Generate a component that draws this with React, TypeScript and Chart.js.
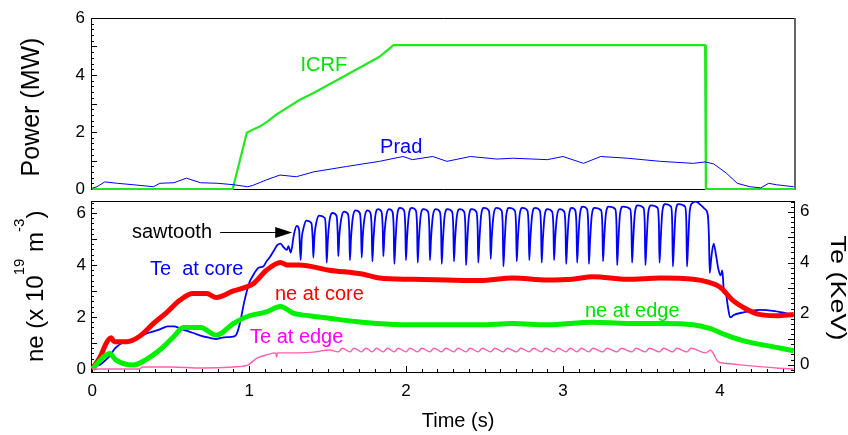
import React, { useEffect, useRef } from "react";
import { Chart, registerables } from "chart.js";
Chart.register(...registerables);

const W = 848;
const H = 435;
const FONT = "'Liberation Sans', Helvetica, Arial, sans-serif";

// ---------- tick labels ----------
const timeTicks = [0, 1, 2, 3, 4];
const powerTicks = [0, 2, 4, 6];
const neTicks = [0, 2, 4, 6];
const teTicks = [0, 2, 4, 6];

// ---------- top panel: power (MW) ----------
const icrf: number[][] = [
  [0, 0], [0.895, 0], [0.985, 1.97], [1.03, 2.1], [1.07, 2.2], [1.12, 2.38], [1.17, 2.6],
  [1.32, 3.12], [1.41, 3.37], [1.62, 4.0], [1.83, 4.64], [1.92, 5.05], [2.3, 5.05],
  [2.9, 5.05], [3.5, 5.05], [3.905, 5.05], [3.91, 0], [4.48, 0],
];
const prad: number[][] = [
  [0, 0.03], [0.03, 0.08], [0.08, 0.25], [0.16, 0.2], [0.26, 0.15], [0.39, 0.08], [0.43, 0.2],
  [0.52, 0.22], [0.6, 0.38], [0.69, 0.22], [0.8, 0.2], [0.9, 0.15], [0.99, 0.08], [1.02, 0.12],
  [1.11, 0.32], [1.196, 0.49], [1.3, 0.43], [1.41, 0.6], [1.62, 0.79], [1.83, 0.97],
  [1.98, 1.14], [2.04, 1.03], [2.17, 1.14], [2.26, 0.97], [2.41, 1.14], [2.58, 1.05],
  [2.68, 1.08], [2.9, 1.03], [3.0, 1.14], [3.13, 0.9], [3.24, 1.14], [3.41, 1.08],
  [3.62, 0.97], [3.83, 0.9], [3.905, 0.95], [3.96, 0.88], [4.04, 0.56], [4.11, 0.2],
  [4.19, 0.08], [4.26, 0.04], [4.31, 0.2], [4.36, 0.15], [4.47, 0.08],
];

// ---------- bottom panel: ne (1e19 m^-3) ----------
const neCore: number[][] = [
  [0, 0], [0.05, 0.46], [0.09, 1.0], [0.12, 1.2], [0.14, 1.05], [0.22, 1.05], [0.3, 1.25],
  [0.39, 1.75], [0.47, 2.15], [0.56, 2.65], [0.64, 2.9], [0.73, 2.9], [0.79, 2.75], [0.9, 3.0],
  [0.98, 3.15], [1.03, 3.3], [1.11, 3.8], [1.2, 4.1], [1.24, 4.0], [1.32, 4.0], [1.51, 3.8],
  [1.72, 3.65], [1.83, 3.5], [2.04, 3.45], [2.26, 3.42], [2.47, 3.4], [2.68, 3.5], [2.9, 3.42],
  [3.06, 3.45], [3.19, 3.55], [3.41, 3.45], [3.62, 3.5], [3.83, 3.45], [3.92, 3.35], [4.0, 3.15],
  [4.08, 2.65], [4.17, 2.3], [4.25, 2.1], [4.36, 2.05], [4.47, 2.1],
];
const neEdge: number[][] = [
  [0, 0], [0.07, 0.45], [0.11, 0.6], [0.15, 0.35], [0.26, 0.15], [0.34, 0.35], [0.43, 0.73],
  [0.52, 1.25], [0.58, 1.6], [0.69, 1.6], [0.79, 1.3], [0.9, 1.75], [0.98, 2.0], [1.11, 2.2],
  [1.2, 2.4], [1.28, 2.15], [1.32, 2.1], [1.51, 1.95], [1.72, 1.8], [2.04, 1.7], [2.26, 1.7],
  [2.47, 1.7], [2.68, 1.75], [2.9, 1.7], [3.19, 1.8], [3.41, 1.75], [3.62, 1.75], [3.83, 1.7],
  [3.94, 1.55], [4.04, 1.3], [4.17, 1.05], [4.3, 0.9], [4.47, 0.7],
];

// ---------- bottom panel: Te (keV) ----------
const teCore: number[][] = [
  [0.02, -0.05], [0.05, 0.0], [0.08, 0.15], [0.11, 0.33], [0.14, 0.6], [0.16, 0.72], [0.19, 0.85],
  [0.22, 0.92], [0.26, 1.0], [0.3, 1.1], [0.36, 1.25], [0.43, 1.38], [0.48, 1.5], [0.52, 1.5],
  [0.56, 1.42], [0.6, 1.33], [0.64, 1.25], [0.7, 1.12], [0.75, 1.05], [0.79, 1.0], [0.82, 1.05],
  [0.86, 1.08], [0.9, 1.1], [0.92, 1.2], [0.94, 1.6], [0.97, 2.5], [1.0, 3.2], [1.02, 3.45],
  [1.06, 3.8], [1.09, 3.85], [1.11, 4.05], [1.13, 4.2], [1.16, 4.5], [1.18, 4.7], [1.2, 4.75],
  [1.22, 4.6], [1.24, 4.5], [1.25, 4.65], [1.265, 4.4], [1.285, 5.1], [1.303, 5.44], [1.318, 5.3],
  [1.328, 4.1], [1.335, 4.95], [1.346, 5.35], [1.364, 5.65], [1.397, 5.55], [1.405, 4.9],
  [1.409, 4.2], [1.416, 5.05], [1.427, 5.55], [1.445, 5.85], [1.482, 5.75], [1.49, 5.1],
  [1.494, 4.0], [1.501, 4.85], [1.512, 5.65], [1.53, 5.95], [1.556, 5.85], [1.564, 5.2],
  [1.568, 4.25], [1.575, 5.1], [1.586, 5.7], [1.604, 6.0], [1.63, 5.9], [1.638, 5.25],
  [1.642, 4.1], [1.649, 4.95], [1.66, 5.75], [1.678, 6.05], [1.705, 5.95], [1.713, 5.3],
  [1.717, 4.2], [1.724, 5.05], [1.735, 5.75], [1.753, 6.05], [1.773, 5.95], [1.781, 5.3],
  [1.785, 4.05], [1.792, 4.9], [1.803, 5.8], [1.821, 6.1], [1.843, 6.0], [1.851, 5.35],
  [1.855, 4.25], [1.862, 5.1], [1.873, 5.8], [1.891, 6.1], [1.913, 6.0], [1.921, 5.35],
  [1.925, 3.95], [1.932, 4.8], [1.943, 5.85], [1.961, 6.15], [1.987, 6.05], [1.995, 5.4],
  [1.999, 4.1], [2.006, 4.95], [2.017, 5.85], [2.035, 6.15], [2.062, 6.05], [2.07, 5.4],
  [2.074, 4.0], [2.081, 4.85], [2.092, 5.8], [2.11, 6.1], [2.14, 6.0], [2.148, 5.35],
  [2.152, 4.1], [2.159, 4.95], [2.17, 5.8], [2.188, 6.1], [2.215, 6.0], [2.223, 5.35],
  [2.227, 3.95], [2.234, 4.8], [2.245, 5.8], [2.263, 6.1], [2.293, 6.0], [2.301, 5.35],
  [2.305, 4.05], [2.312, 4.9], [2.323, 5.8], [2.341, 6.1], [2.37, 6.0], [2.378, 5.35],
  [2.382, 3.9], [2.389, 4.75], [2.4, 5.8], [2.418, 6.1], [2.448, 6.0], [2.456, 5.35],
  [2.46, 4.0], [2.467, 4.85], [2.478, 5.85], [2.496, 6.15], [2.527, 6.05], [2.535, 5.4],
  [2.539, 4.15], [2.546, 5.0], [2.557, 5.85], [2.575, 6.15], [2.608, 6.05], [2.616, 5.4],
  [2.62, 3.85], [2.627, 4.7], [2.638, 5.85], [2.656, 6.15], [2.693, 6.05], [2.701, 5.4],
  [2.705, 4.05], [2.712, 4.9], [2.723, 5.85], [2.741, 6.15], [2.773, 6.05], [2.781, 5.4],
  [2.785, 4.1], [2.792, 4.95], [2.803, 5.85], [2.821, 6.15], [2.852, 6.05], [2.86, 5.4],
  [2.864, 4.0], [2.871, 4.85], [2.882, 5.8], [2.9, 6.1], [2.931, 6.0], [2.939, 5.35],
  [2.943, 4.1], [2.95, 4.95], [2.961, 5.8], [2.979, 6.1], [3.008, 6.0], [3.016, 5.35],
  [3.02, 3.95], [3.027, 4.8], [3.038, 5.85], [3.056, 6.15], [3.078, 6.05], [3.086, 5.4],
  [3.09, 4.0], [3.097, 4.85], [3.108, 5.9], [3.126, 6.2], [3.153, 6.1], [3.161, 5.45],
  [3.165, 3.95], [3.172, 4.8], [3.183, 5.85], [3.201, 6.15], [3.243, 6.05], [3.251, 5.4],
  [3.255, 4.05], [3.262, 4.9], [3.273, 5.9], [3.291, 6.2], [3.333, 6.1], [3.341, 5.45],
  [3.345, 3.9], [3.352, 4.75], [3.363, 5.9], [3.381, 6.2], [3.428, 6.1], [3.436, 5.45],
  [3.44, 4.0], [3.447, 4.85], [3.458, 5.95], [3.476, 6.25], [3.513, 6.15], [3.521, 5.5],
  [3.525, 3.9], [3.532, 4.75], [3.543, 5.95], [3.561, 6.25], [3.603, 6.15], [3.611, 5.5],
  [3.615, 4.0], [3.622, 4.85], [3.633, 6.0], [3.651, 6.3], [3.688, 6.2], [3.696, 5.55],
  [3.7, 3.85], [3.707, 4.7], [3.718, 6.0], [3.736, 6.3], [3.778, 6.2], [3.786, 5.55],
  [3.79, 3.85], [3.797, 4.7], [3.808, 6.05], [3.826, 6.35], [3.845, 6.4], [3.88, 6.25],
  [3.905, 6.1], [3.922, 5.9], [3.93, 5.0],
  [3.935, 3.6], [3.945, 4.2], [3.96, 4.75], [3.975, 4.3], [3.99, 3.75], [4.005, 3.5],
  [4.015, 3.7], [4.025, 2.95], [4.035, 2.9], [4.05, 2.3], [4.065, 1.85], [4.09, 1.95],
  [4.15, 2.05], [4.25, 2.15], [4.35, 2.1], [4.47, 1.95],
];
const teEdge: number[][] = [
  [0, 0], [0.3, 0], [0.32, 0.08], [0.5, 0.08], [0.7, 0.04], [0.9, 0.08], [0.99, 0.15],
  [1.05, 0.42], [1.11, 0.54], [1.17, 0.62], [1.175, 0.45], [1.18, 0.62], [1.32, 0.62],
  [1.41, 0.65], [1.51, 0.73],
  [1.568, 0.66], [1.594, 0.8], [1.642, 0.66], [1.668, 0.8], [1.717, 0.66], [1.743, 0.8],
  [1.785, 0.66], [1.811, 0.8], [1.855, 0.66], [1.881, 0.8], [1.925, 0.66], [1.951, 0.8],
  [1.999, 0.66], [2.025, 0.8], [2.074, 0.66], [2.1, 0.8], [2.152, 0.66], [2.178, 0.8],
  [2.227, 0.66], [2.253, 0.8], [2.305, 0.66], [2.331, 0.8], [2.382, 0.66], [2.408, 0.8],
  [2.46, 0.66], [2.486, 0.8], [2.539, 0.66], [2.565, 0.8], [2.62, 0.66], [2.646, 0.8],
  [2.705, 0.66], [2.731, 0.8], [2.785, 0.66], [2.811, 0.8], [2.864, 0.66], [2.89, 0.8],
  [2.943, 0.66], [2.969, 0.8], [3.02, 0.66], [3.046, 0.8], [3.09, 0.66], [3.116, 0.8],
  [3.165, 0.66], [3.191, 0.8], [3.255, 0.66], [3.281, 0.8], [3.345, 0.66], [3.371, 0.8],
  [3.44, 0.66], [3.466, 0.8], [3.525, 0.66], [3.551, 0.8], [3.615, 0.66], [3.641, 0.8],
  [3.7, 0.66], [3.726, 0.8], [3.79, 0.66], [3.816, 0.8], [3.91, 0.62], [3.94, 0.72],
  [3.99, 0.27], [4.02, 0.23], [4.15, 0.15], [4.36, 0.04], [4.47, 0.0],
];

// ---------- annotations (data units of each panel) ----------
const topNotes = [
  { text: "ICRF", x: 1.327, y: 4.14, color: "#00e000" },
  { text: "Prad", x: 1.834, y: 1.26, color: "#0000ff" },
];
const bottomNotes = [
  { text: "sawtooth", x: 0.253, y: 5.04, color: "#000000" },
  { text: "Te  at core", x: 0.368, y: 3.62, color: "#0000ff" },
  { text: "ne at core", x: 1.164, y: 2.65, color: "#ff0000" },
  { text: "Te at edge", x: 1.005, y: 1.0, color: "#ff00ff" },
  { text: "ne at edge", x: 3.14, y: 2.0, color: "#00e000" },
];
const arrowFrom = [0.815, 5.27];
const arrowTo = [1.274, 5.27];

const pts = (a: number[][]) => a.map(([x, y]) => ({ x, y }));

function drawTicks(ctx: CanvasRenderingContext2D, scale: any, side: string, minor: number, area: any) {
  const start = Math.ceil(scale.min / minor - 1e-6);
  const end = Math.floor(scale.max / minor + 1e-6);
  ctx.save();
  ctx.strokeStyle = "#000";
  ctx.lineWidth = 1;
  ctx.beginPath();
  for (let i = start; i <= end; i++) {
    const v = i * minor;
    const major = Math.abs(v - Math.round(v)) < 1e-6;
    const len = major ? 6 : 3;
    const p = Math.round(scale.getPixelForValue(v)) + 0.5;
    if (side === "left") {
      ctx.moveTo(area.left, p);
      ctx.lineTo(area.left + len, p);
    } else if (side === "right") {
      ctx.moveTo(area.right, p);
      ctx.lineTo(area.right - len, p);
    } else {
      ctx.moveTo(p, area.bottom);
      ctx.lineTo(p, area.bottom - len);
    }
  }
  ctx.stroke();
  ctx.restore();
}

const topPlugin = {
  id: "topDecor",
  beforeDatasetsDraw(chart: any) {
    const { ctx, chartArea: a } = chart;
    ctx.save();
    ctx.strokeStyle = "#000";
    ctx.lineWidth = 1;
    ctx.beginPath();
    ctx.moveTo(a.right, a.top + 0.5);
    ctx.lineTo(a.left + 0.5, a.top + 0.5);
    ctx.lineTo(a.left + 0.5, a.bottom + 0.5);
    ctx.lineTo(a.right, a.bottom + 0.5);
    ctx.stroke();
    ctx.strokeStyle = "#666";
    ctx.lineWidth = 2;
    ctx.beginPath();
    ctx.moveTo(a.right, a.top);
    ctx.lineTo(a.right, a.bottom + 1);
    ctx.stroke();
    ctx.restore();
    drawTicks(ctx, chart.scales.y, "left", 0.2, a);
  },
  afterDatasetsDraw(chart: any) {
    const { ctx } = chart;
    const xs = chart.scales.x;
    const ys = chart.scales.y;
    ctx.save();
    ctx.font = `20px ${FONT}`;
    ctx.textBaseline = "alphabetic";
    ctx.textAlign = "left";
    for (const n of topNotes) {
      ctx.fillStyle = n.color;
      ctx.fillText(n.text, xs.getPixelForValue(n.x), ys.getPixelForValue(n.y));
    }
    ctx.fillStyle = "#000";
    ctx.font = `25px ${FONT}`;
    ctx.translate(39, 107);
    ctx.rotate(-Math.PI / 2);
    ctx.textAlign = "center";
    ctx.fillText("Power (MW)", 0, 0);
    ctx.restore();
  },
};

const bottomPlugin = {
  id: "bottomDecor",
  beforeDatasetsDraw(chart: any) {
    const { ctx, chartArea: a } = chart;
    ctx.save();
    ctx.strokeStyle = "#000";
    ctx.lineWidth = 1;
    ctx.strokeRect(a.left + 0.5, a.top + 0.5, a.right - a.left, a.bottom - a.top);
    ctx.restore();
    drawTicks(ctx, chart.scales.y, "left", 0.2, a);
    drawTicks(ctx, chart.scales.y2, "right", 0.2, a);
    drawTicks(ctx, chart.scales.x, "bottom", 0.1, a);
  },
  afterDatasetsDraw(chart: any) {
    const { ctx } = chart;
    const xs = chart.scales.x;
    const ys = chart.scales.y;
    ctx.save();
    ctx.font = `20px ${FONT}`;
    ctx.textBaseline = "alphabetic";
    ctx.textAlign = "left";
    for (const n of bottomNotes) {
      ctx.fillStyle = n.color;
      ctx.fillText(n.text, xs.getPixelForValue(n.x), ys.getPixelForValue(n.y));
    }
    // arrow
    const x1 = xs.getPixelForValue(arrowFrom[0]);
    const y1 = Math.round(ys.getPixelForValue(arrowFrom[1])) + 0.5;
    const x2 = xs.getPixelForValue(arrowTo[0]);
    ctx.strokeStyle = "#000";
    ctx.fillStyle = "#000";
    ctx.lineWidth = 1;
    ctx.beginPath();
    ctx.moveTo(x1, y1);
    ctx.lineTo(x2 - 14, y1);
    ctx.stroke();
    ctx.beginPath();
    ctx.moveTo(x2, y1);
    ctx.lineTo(x2 - 17, y1 - 5.5);
    ctx.lineTo(x2 - 17, y1 + 5.5);
    ctx.closePath();
    ctx.fill();

    // x title
    ctx.fillStyle = "#000";
    ctx.font = `20px ${FONT}`;
    ctx.textAlign = "center";
    ctx.fillText("Time (s)", 458, 427);

    // left title with superscripts
    ctx.save();
    ctx.translate(43, 362);
    ctx.rotate(-Math.PI / 2);
    ctx.textAlign = "left";
    const parts: [string, boolean][] = [["ne (x 10", false], ["19", true], [" m", false], ["-3", true], [")", false]];
    let cx = 0;
    for (const [t, sup] of parts) {
      ctx.font = sup ? `15px ${FONT}` : `24px ${FONT}`;
      ctx.fillText(t, cx, sup ? -19 : 0);
      cx += ctx.measureText(t).width;
    }
    ctx.restore();

    // right title
    ctx.save();
    ctx.translate(831, 288);
    ctx.rotate(Math.PI / 2);
    ctx.scale(1, 0.8);
    ctx.font = `27px ${FONT}`;
    ctx.textAlign = "center";
    ctx.fillText("Te (KeV)", 0, 0);
    ctx.restore();
    ctx.restore();
  },
};

const tickFont = { family: FONT, size: 17 };

function topConfig(): any {
  return {
    type: "line",
    data: {
      datasets: [
        { data: pts(prad), borderColor: "#0000ff", borderWidth: 1, pointRadius: 0, tension: 0, clip: 4 },
        { data: pts(icrf), borderColor: "#22e822", borderWidth: 2.2, pointRadius: 0, tension: 0, clip: 4 },
      ],
    },
    options: {
      animation: false,
      responsive: false,
      devicePixelRatio: 1,
      events: [],
      layout: { padding: { left: 0, right: W - 795, top: 18, bottom: H - 189 } },
      plugins: { legend: { display: false }, tooltip: { enabled: false } },
      scales: {
        x: { type: "linear", min: -0.008, max: 4.478, display: false },
        y: {
          type: "linear",
          min: 0,
          max: 6,
          afterFit: (s: any) => { s.width = 91; },
          afterBuildTicks: (s: any) => { s.ticks = powerTicks.map((v) => ({ value: v })); },
          grid: { display: false, drawTicks: false },
          border: { display: false },
          ticks: { font: tickFont, color: "#000", padding: 6 },
        },
      },
    },
    plugins: [topPlugin],
  };
}

function bottomConfig(): any {
  return {
    type: "line",
    data: {
      datasets: [
        { data: pts(teEdge), borderColor: "#ff5fae", borderWidth: 1.4, pointRadius: 0, cubicInterpolationMode: "monotone", yAxisID: "y" },
        { data: pts(neEdge), borderColor: "#00f000", borderWidth: 5, pointRadius: 0, cubicInterpolationMode: "monotone", yAxisID: "y" },
        { data: pts(neCore), borderColor: "#ff0000", borderWidth: 5, pointRadius: 0, cubicInterpolationMode: "monotone", yAxisID: "y" },
        { data: pts(teCore), borderColor: "#0000ff", borderWidth: 1.8, pointRadius: 0, cubicInterpolationMode: "monotone", yAxisID: "y2" },
      ],
    },
    options: {
      animation: false,
      responsive: false,
      devicePixelRatio: 1,
      events: [],
      layout: { padding: { left: 0, right: 0, top: 201, bottom: 0 } },
      plugins: { legend: { display: false }, tooltip: { enabled: false } },
      scales: {
        x: {
          type: "linear",
          min: -0.008,
          max: 4.472,
          afterFit: (s: any) => { s.height = H - 372; },
          afterBuildTicks: (s: any) => { s.ticks = timeTicks.map((v) => ({ value: v })); },
          grid: { display: false, drawTicks: false },
          border: { display: false },
          ticks: { font: tickFont, color: "#000", padding: 9, maxRotation: 0 },
        },
        y: {
          type: "linear",
          position: "left",
          min: -0.115,
          max: 6.46,
          afterFit: (s: any) => { s.width = 91; },
          afterBuildTicks: (s: any) => { s.ticks = neTicks.map((v) => ({ value: v })); },
          grid: { display: false, drawTicks: false },
          border: { display: false },
          ticks: { font: tickFont, color: "#000", padding: 5 },
        },
        y2: {
          type: "linear",
          position: "right",
          min: -0.29,
          max: 6.42,
          afterFit: (s: any) => { s.width = W - 794; },
          afterBuildTicks: (s: any) => { s.ticks = teTicks.map((v) => ({ value: v })); },
          grid: { display: false, drawTicks: false },
          border: { display: false },
          ticks: { font: tickFont, color: "#000", padding: 6 },
        },
      },
    },
    plugins: [bottomPlugin],
  };
}

export default function App() {
  const topRef = useRef<HTMLCanvasElement>(null);
  const botRef = useRef<HTMLCanvasElement>(null);
  useEffect(() => {
    const c1 = new Chart(topRef.current as HTMLCanvasElement, topConfig());
    const c2 = new Chart(botRef.current as HTMLCanvasElement, bottomConfig());
    return () => {
      c1.destroy();
      c2.destroy();
    };
  }, []);
  return (
    <div style={{ position: "absolute", left: 0, top: 0, width: W, height: H, background: "#fff" }}>
      <canvas ref={topRef} width={W} height={H} style={{ position: "absolute", left: 0, top: 0 }} />
      <canvas ref={botRef} width={W} height={H} style={{ position: "absolute", left: 0, top: 0 }} />
    </div>
  );
}
